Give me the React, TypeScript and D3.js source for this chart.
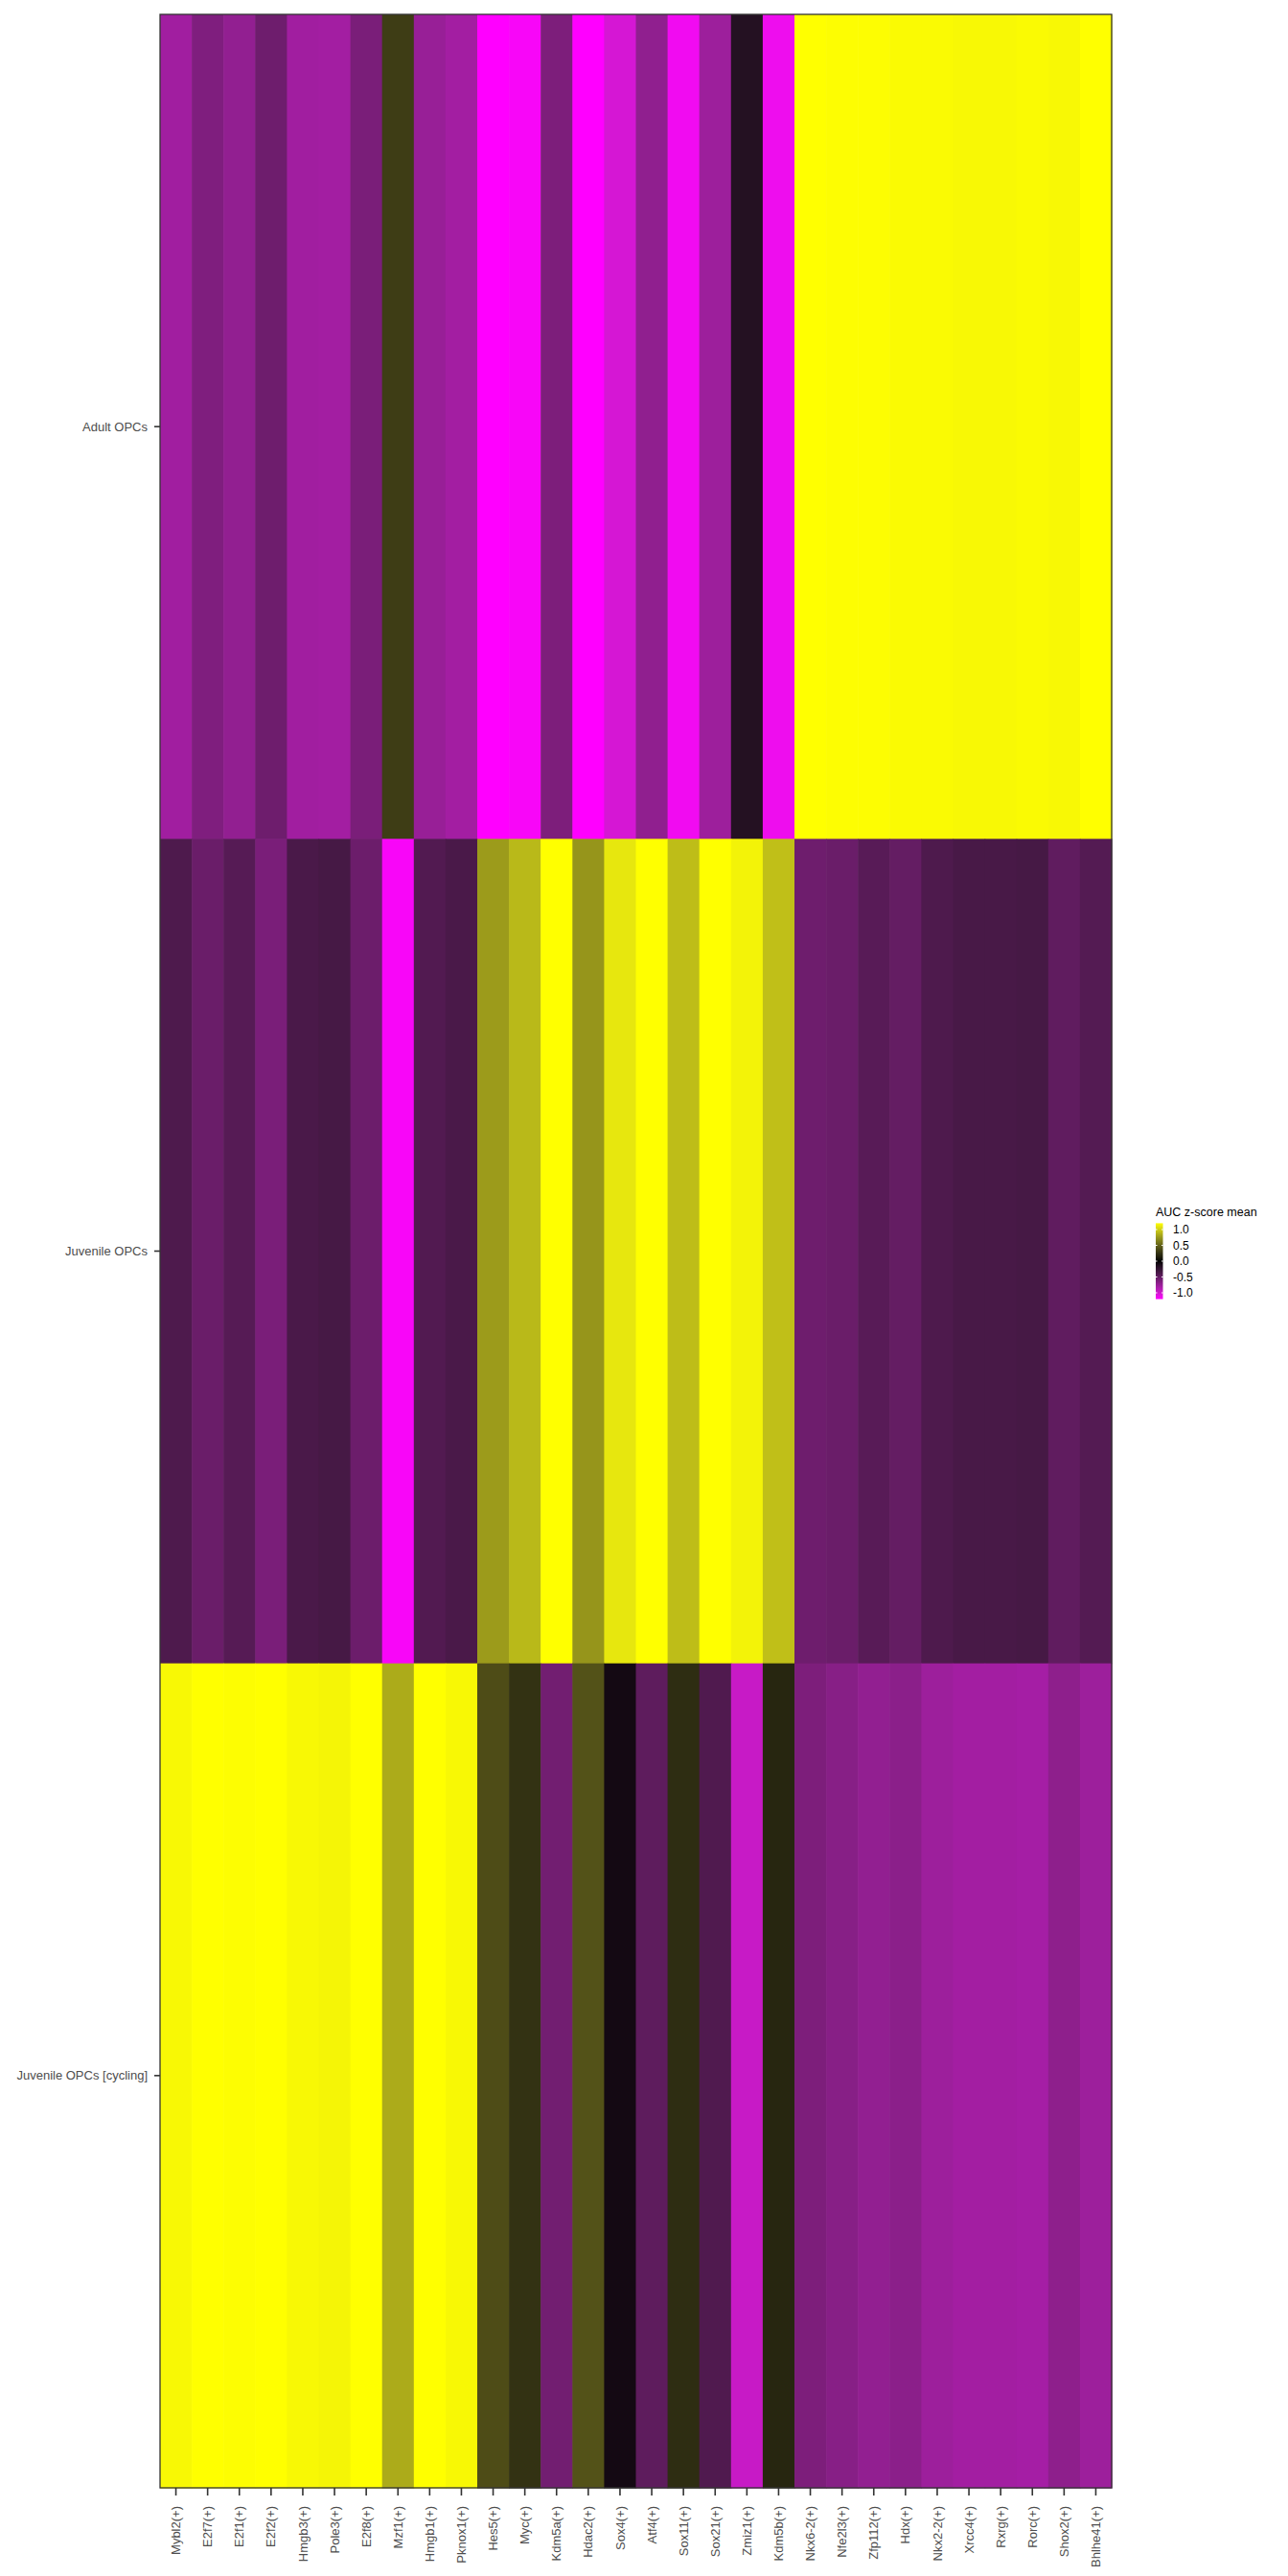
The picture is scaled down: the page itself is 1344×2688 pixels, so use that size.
import * as d3 from 'd3';

// regulon activity heatmap (AUC z-score, mean per cell type)
const cellTypes = ['Adult OPCs', 'Juvenile OPCs', 'Juvenile OPCs [cycling]'];

const regulons = [
  'Mybl2(+)', 'E2f7(+)', 'E2f1(+)', 'E2f2(+)', 'Hmgb3(+)', 'Pole3(+)', 'E2f8(+)', 'Mzf1(+)',
  'Hmgb1(+)', 'Pknox1(+)', 'Hes5(+)', 'Myc(+)', 'Kdm5a(+)', 'Hdac2(+)', 'Sox4(+)', 'Atf4(+)',
  'Sox11(+)', 'Sox21(+)', 'Zmiz1(+)', 'Kdm5b(+)', 'Nkx6-2(+)', 'Nfe2l3(+)', 'Zfp112(+)', 'Hdx(+)',
  'Nkx2-2(+)', 'Xrcc4(+)', 'Rxrg(+)', 'Rorc(+)', 'Shox2(+)', 'Bhlhe41(+)',
];

const adultVals = [
  -0.79, -0.63, -0.72, -0.55, -0.79, -0.8, -0.61, 0.31, -0.75, -0.8,
  -1.2, -1.17, -0.62, -1.2, -1.02, -0.71, -1.14, -0.77, -0.16, -1.13,
  1.2, 1.19, 1.19, 1.18, 1.18, 1.17, 1.17, 1.18, 1.17, 1.2,
];

const juvenileVals = [
  -0.39, -0.53, -0.43, -0.61, -0.37, -0.35, -0.54, -1.17, -0.41, -0.37,
  0.77, 0.9, 1.2, 0.74, 1.1, 1.2, 0.92, 1.2, 1.15, 0.93,
  -0.55, -0.53, -0.44, -0.5, -0.39, -0.36, -0.36, -0.35, -0.48, -0.42,
];

const cyclingVals = [
  1.17, 1.2, 1.19, 1.2, 1.17, 1.16, 1.2, 0.84, 1.2, 1.17,
  0.39, 0.25, -0.57, 0.42, -0.07, -0.47, 0.22, -0.4, -0.96, 0.18,
  -0.62, -0.67, -0.72, -0.69, -0.77, -0.8, -0.8, -0.81, -0.7, -0.77,
];

const legendBreaks = [1.0, 0.5, 0.0, -0.5, -1.0];

const W = 1344;
const H = 2688;
const margin = { left: 167, right: 184, top: 15, bottom: 92 };
const font = '"Liberation Sans", Arial, Helvetica, sans-serif';

export default function App() {
  const rowsVals = [adultVals, juvenileVals, cyclingVals];
  const cells = cellTypes.flatMap((ct, i) =>
    regulons.map((rg, j) => ({ ct, rg, v: rowsVals[i][j] }))
  );

  const x = d3.scaleBand().domain(regulons).range([margin.left, W - margin.right]).padding(0);
  const y = d3.scaleBand().domain(cellTypes).range([margin.top, H - margin.bottom]).padding(0);

  const allV = cells.map(d => d.v);
  const [vmin, vmax] = d3.extent(allV) as [number, number];
  const lim = Math.max(Math.abs(vmin), Math.abs(vmax));
  const color = d3.scaleLinear<string>()
    .domain([-lim, 0, lim])
    .range(['#FF00FF', '#000000', '#FFFF00'])
    .interpolate(d3.interpolateLab)
    .clamp(true);

  // legend
  const legX = 1206;
  const barW = 7.5;
  const legY = d3.scaleLinear().domain([0, 1]).range([1316, 1283]);
  const stops = d3.range(0, 21).map(k => vmin + (vmax - vmin) * k / 20);

  const x0 = margin.left;
  const x1 = W - margin.right;
  const y0 = margin.top;
  const y1 = H - margin.bottom;

  return (
    <svg width={W} height={H} style={{ position: 'absolute', left: 0, top: 0, background: '#fff' }}
      fontFamily={font}>
      <defs>
        <linearGradient id="legGrad" x1="0" y1="1" x2="0" y2="0">
          {stops.map((s, k) => (
            <stop key={k} offset={`${(k / 20) * 100}%`} stopColor={color(s)} />
          ))}
        </linearGradient>
      </defs>

      <g>
        {cells.map((d, i) => (
          <rect key={i}
            x={x(d.rg)!} y={y(d.ct)!}
            width={x.bandwidth() + 0.6} height={y.bandwidth() + 0.6}
            fill={color(d.v)} />
        ))}
      </g>

      <rect x={x0} y={y0} width={x1 - x0} height={y1 - y0} fill="none" stroke="#333333" strokeWidth={1.3} />

      {/* y axis */}
      <g>
        {cellTypes.map(ct => {
          const cy = y(ct)! + y.bandwidth() / 2;
          return (
            <g key={ct}>
              <line x1={x0 - 6} x2={x0} y1={cy} y2={cy} stroke="#333333" strokeWidth={1.6} />
              <text x={x0 - 13} y={cy} dy="0.35em" textAnchor="end" fontSize={13} fill="#4D4D4D">{ct}</text>
            </g>
          );
        })}
      </g>

      {/* x axis */}
      <g>
        {regulons.map(rg => {
          const cx = x(rg)! + x.bandwidth() / 2;
          return (
            <g key={rg}>
              <line x1={cx} x2={cx} y1={y1} y2={y1 + 8} stroke="#333333" strokeWidth={1.6} />
              <text transform={`translate(${cx},${y1 + 19}) rotate(-90)`} dy="0.35em" textAnchor="end"
                fontSize={13} fill="#4D4D4D">{rg}</text>
            </g>
          );
        })}
      </g>

      {/* legend */}
      <g>
        <text x={legX} y={1269} fontSize={12.5} fill="#000">AUC z-score mean</text>
        <rect x={legX} y={legY(vmax)} width={barW} height={legY(vmin) - legY(vmax)} fill="url(#legGrad)" />
        {legendBreaks.map(b => (
          <g key={b}>
            <line x1={legX} x2={legX + 1.5} y1={legY(b)} y2={legY(b)} stroke="#fff" strokeWidth={1} />
            <line x1={legX + barW - 1.5} x2={legX + barW} y1={legY(b)} y2={legY(b)} stroke="#fff" strokeWidth={1} />
            <text x={legX + 18} y={legY(b)} dy="0.35em" fontSize={12} fill="#000">{b.toFixed(1)}</text>
          </g>
        ))}
      </g>
    </svg>
  );
}
